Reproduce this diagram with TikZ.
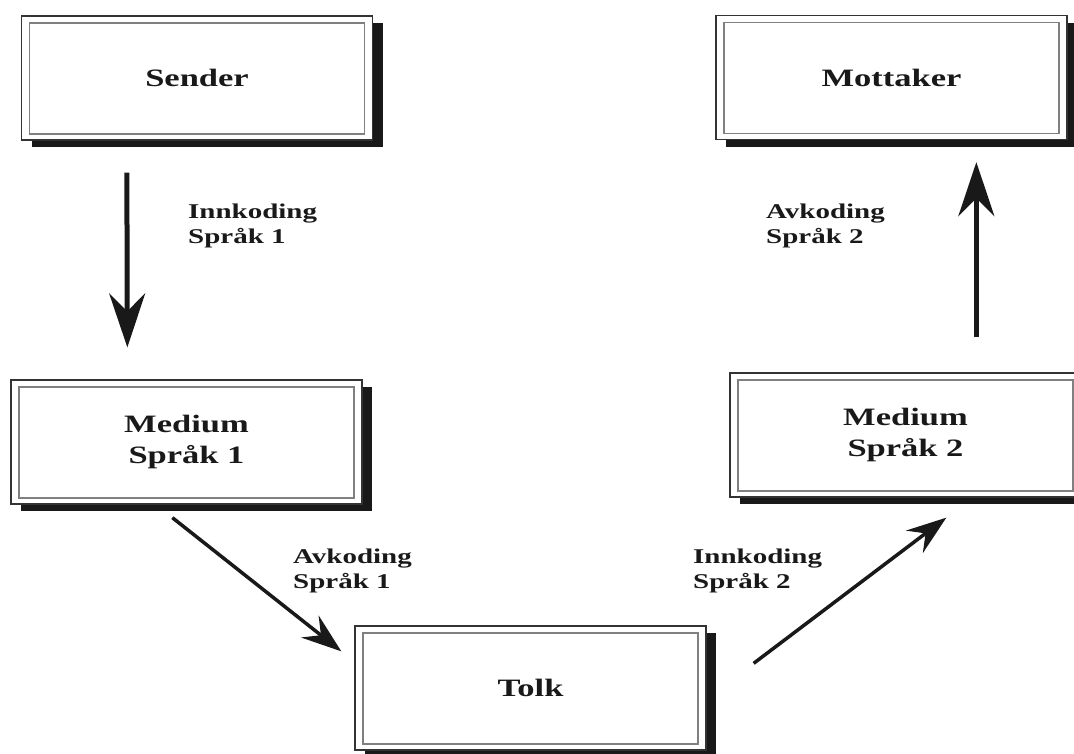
\documentclass[tikz,border=0pt]{standalone}
\usepackage{fontspec}
\setmainfont{Liberation Serif}[FakeStretch=1.38]
\usetikzlibrary{arrows.meta,shadows}
\begin{document}
\begin{tikzpicture}[x=1pt,y=-1pt,
  box/.style={draw=black!80, line width=1.3pt, fill=white,
    minimum width=351pt, minimum height=124pt, inner sep=0pt,
    font=\bfseries\fontsize{25}{31}\selectfont, align=center, text=black!90,
    drop shadow={shadow xshift=10pt,shadow yshift=-7pt,fill=black!90,opacity=1},
    path picture={\draw[black!50,line width=1.3pt]
      ([shift={(8pt,-7pt)}]path picture bounding box.north west) rectangle
      ([shift={(-8pt,6pt)}]path picture bounding box.south east);}},
  lab/.style={font=\bfseries\fontsize{21}{25}\selectfont, align=left,
    anchor=west, inner sep=0pt, text=black!90},
  bigarr/.style={line width=5pt, black!90,
    -{Stealth[length=54pt,width=36pt,inset=18pt]}},
  diagarr/.style={line width=3.5pt, black!90,
    -{Stealth[length=40pt,width=28pt,inset=14pt]}}]
\path[use as bounding box, clip] (0,0) rectangle (1074,753);

\node[box] (Sender)   at (197,78)    {Sender};
\node[box] (Mottaker) at (891.5,77.5) {Mottaker};
\node[box] (Medium1)  at (186.5,442) {Medium\\Språk 1};
\node[box] (Medium2)  at (905.5,435) {Medium\\Språk 2};
\node[box] (Tolk)     at (530.5,688) {Tolk};

\draw[bigarr] ([shift={(106pt,-32pt)}]Sender.south west) -- ([shift={(117pt,32pt)}]Medium1.north west);
\draw[diagarr] ([shift={(162pt,-13pt)}]Medium1.south west) -- ([shift={(-13pt,-26pt)}]Tolk.north west);
\draw[diagarr] ([shift={(47pt,-38pt)}]Tolk.north east) -- ([shift={(217pt,-20pt)}]Medium2.south west);
\draw[bigarr] ([shift={(247pt,35pt)}]Medium2.north west) -- ([shift={(261pt,-22pt)}]Mottaker.south west);

\node[lab] (l1) at (188,226) {Innkoding\\Språk 1};
\node[lab] (l2) at (766,226) {Avkoding\\Språk 2};
\node[lab] (l3) at (293,571) {Avkoding\\Språk 1};
\node[lab] (l4) at (693,571) {Innkoding\\Språk 2};
\end{tikzpicture}
\end{document}
